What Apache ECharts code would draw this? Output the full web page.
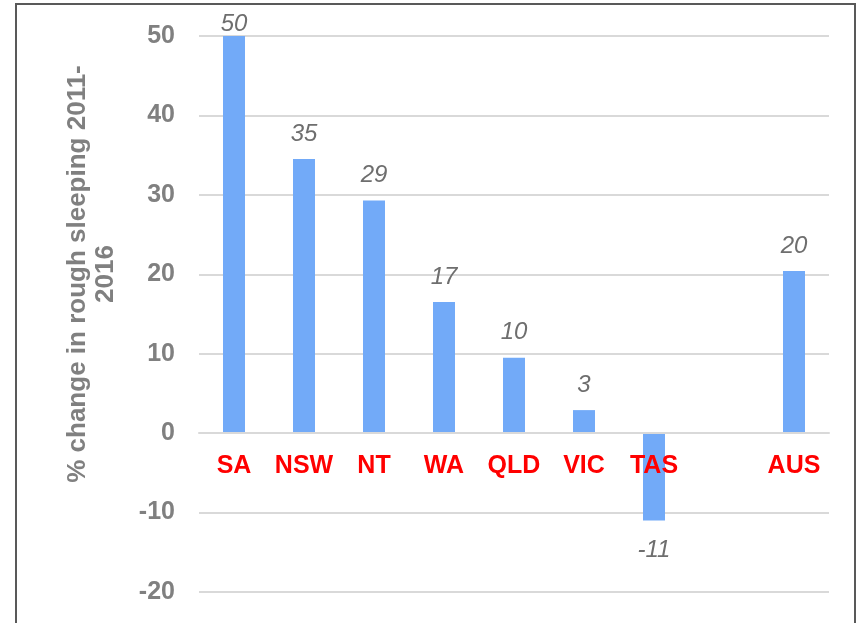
<!DOCTYPE html>
<html>
<head>
<meta charset="utf-8">
<title>Rough sleeping change</title>
<script src="https://cdn.jsdelivr.net/npm/echarts@6/dist/echarts.min.js"></script>
<style>
    html, body { margin: 0; padding: 0; background: #fff; }
    #chart { width: 860px; height: 623px; }
</style>
</head>
<body>
<div id="chart"></div>
<script>
// 各州露宿人数变化（2011-2016）
var regions = ['SA', 'NSW', 'NT', 'WA', 'QLD', 'VIC', 'TAS', '', 'AUS'];
var changes = [50, 34.5, 29.3, 16.5, 9.5, 2.9, -11, null, 20.4];
var shownLabels = ['50', '35', '29', '17', '10', '3', '-11', '', '20'];
var yTicks = { min: -20, max: 50, step: 10 };
var yTitle = '% change in rough sleeping 2011-\n2016';

function drawChart() {
    var myChart = echarts.init(document.getElementById('chart'));

    var gridTop = 36, gridBottom = 31;
    var plotHeight = 623 - gridTop - gridBottom;
    // x轴放到0刻度线上
    var zeroOffset = -plotHeight * (0 - yTicks.min) / (yTicks.max - yTicks.min);

    var barData = [];
    $each(changes, function (i, v) {
        if (v === null) {
            barData.push('-');
            return;
        }
        var item = { value: v };
        if (v < 0) {
            item.label = { position: 'bottom', distance: 18 };
        } else if (i === 0) {
            item.label = { distance: 0 };
        }
        barData.push(item);
    });

    var option = {
        animation: false,
        grid: {
            left: 199,
            right: 31,
            top: gridTop,
            bottom: gridBottom,
            containLabel: false,
            outerBoundsMode: 'none'
        },
        graphic: [{
            type: 'rect',
            shape: { x: 16, y: 4, width: 839, height: 660 },
            style: { fill: 'none', stroke: '#595959', lineWidth: 2 },
            silent: true
        }],
        xAxis: {
            type: 'category',
            data: regions,
            offset: zeroOffset,
            axisTick: { show: false },
            axisLine: {
                onZero: false,
                lineStyle: { color: '#d9d9d9', width: 2 }
            },
            axisLabel: {
                color: '#ff0000',
                fontWeight: 'bold',
                fontSize: 25,
                fontFamily: 'Liberation Sans, Arial, sans-serif',
                margin: 20,
                interval: 0
            },
            z: 5
        },
        yAxis: {
            type: 'value',
            min: yTicks.min,
            max: yTicks.max,
            interval: yTicks.step,
            name: yTitle,
            nameLocation: 'middle',
            nameGap: 79,
            nameTextStyle: {
                color: '#808080',
                fontWeight: 'bold',
                fontSize: 26,
                lineHeight: 28,
                fontFamily: 'Liberation Sans, Arial, sans-serif',
                padding: [0, 0, 0, 80]
            },
            axisLine: { show: false },
            axisTick: { show: false },
            axisLabel: {
                color: '#808080',
                fontWeight: 'bold',
                fontSize: 25,
                fontFamily: 'Liberation Sans, Arial, sans-serif',
                margin: 24
            },
            splitLine: {
                lineStyle: { color: '#d9d9d9', width: 2 }
            }
        },
        series: [{
            type: 'bar',
            data: barData,
            barWidth: 22,
            itemStyle: { color: '#72aaf8' },
            label: {
                show: true,
                position: 'top',
                distance: 13,
                color: '#6e6e6e',
                fontStyle: 'italic',
                fontSize: 24,
                fontFamily: 'Liberation Sans, Arial, sans-serif',
                formatter: function (p) {
                    return shownLabels[p.dataIndex];
                }
            }
        }]
    };

    myChart.setOption(option);
    window.addEventListener('resize', function () {
        myChart.resize();
    });
}

function $each(arr, fn) {
    for (var i = 0; i < arr.length; i++) {
        fn(i, arr[i]);
    }
}

drawChart();
</script>
</body>
</html>
